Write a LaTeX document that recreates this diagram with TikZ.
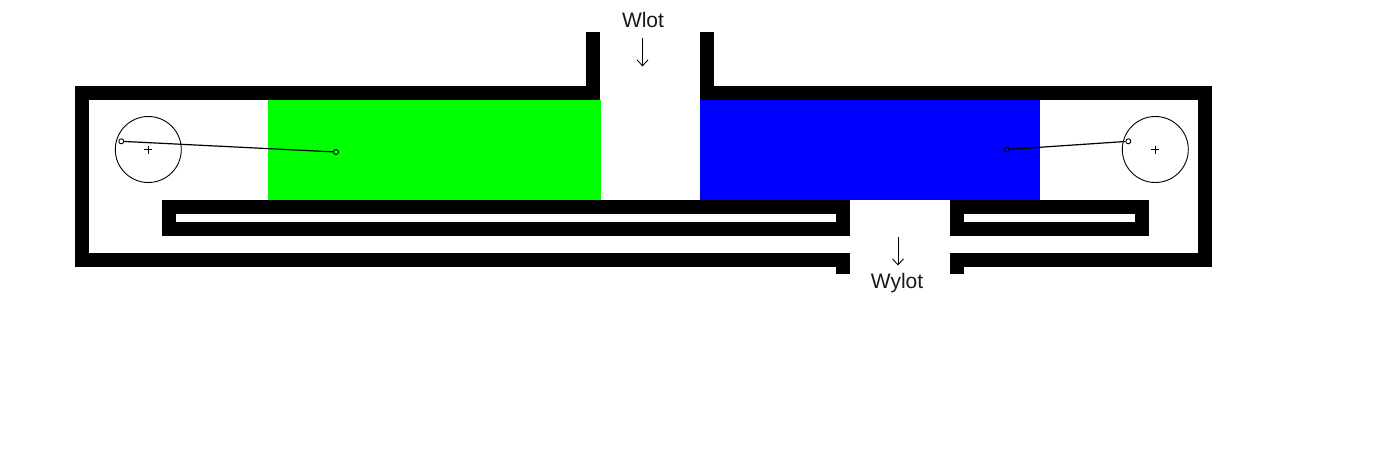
\documentclass[tikz,border=0pt]{standalone}
\usepackage{fontspec}
\setmainfont{Liberation Sans}
\usetikzlibrary{arrows.meta}
\tikzset{wall/.style={line width=14pt, miter limit=10}, thin line/.style={line width=.9pt}, wheel/.style={circle, draw, thin line, inner sep=0pt, minimum size=66pt}, pivot/.style={circle, draw=black, fill=none, inner sep=0pt, minimum size=5pt, thin line}, rod/.style={line width=1.2pt}, flowarrow/.style={-{Straight Barb[length=6pt,width=11pt]}, thin line}, lbl/.style={font=\fontsize{21}{21}\selectfont, text=black!90}}
\begin{document}
\begin{tikzpicture}[x=1pt,y=-1pt]
                 \useasboundingbox(0,0)rectangle(1400,448);
                 \fill[green](268,100)rectangle(601,200);
                 \fill[blue](700,100)rectangle(1040,200);
                 \draw[wall](593,32)--(593,93)--(82,93)--(82,260)--(843,260)--(843,274);
                 \draw[wall](707,32)--(707,93)--(1205,93)--(1205,260)--(957,260)--(957,274);
                 \draw[wall](169,207)rectangle(843,229);
                 \draw[wall](957,207)rectangle(1142,229);
                 \node[wheel] (wheelL) at (148.3,149.5){};
                 \node[wheel] (wheelR) at (1155.3,149.5){};
                 \draw[thin line](148.3,145.5)--(148.3,153.5);
                 \draw[thin line](144.3,149.5)--(152.3,149.5);
                 \draw[thin line](1155.3,145.5)--(1155.3,153.5);
                 \draw[thin line](1151.3,149.5)--(1159.3,149.5);
                 \node[pivot] (crankL) at (121.3,141.3){};
                 \node[pivot] (pistonL) at (336,152){};
                 \node[pivot] (crankR) at (1128.3,141.3){};
                 \node[pivot] (pistonR) at (1006.7,149.5){};
                 \draw[rod](crankL)--(pistonL);
                 \draw[rod](crankR)--(pistonR);
                 \node[lbl] (inlet) at (643,20){Wlot};
                 \node[lbl] (outlet) at (897,283.5){Wylot};
                 \coordinate (inletTop) at (642.5,38);
                 \coordinate (inletEnd) at (642.5,66.5);
                 \coordinate (outletTop) at (898,237);
                 \coordinate (outletEnd) at (898,265.5);
                 \draw[flowarrow](inletTop)--(inletEnd);
                 \draw[flowarrow](outletTop)--(outletEnd);
             \end{tikzpicture}
\end{document}
